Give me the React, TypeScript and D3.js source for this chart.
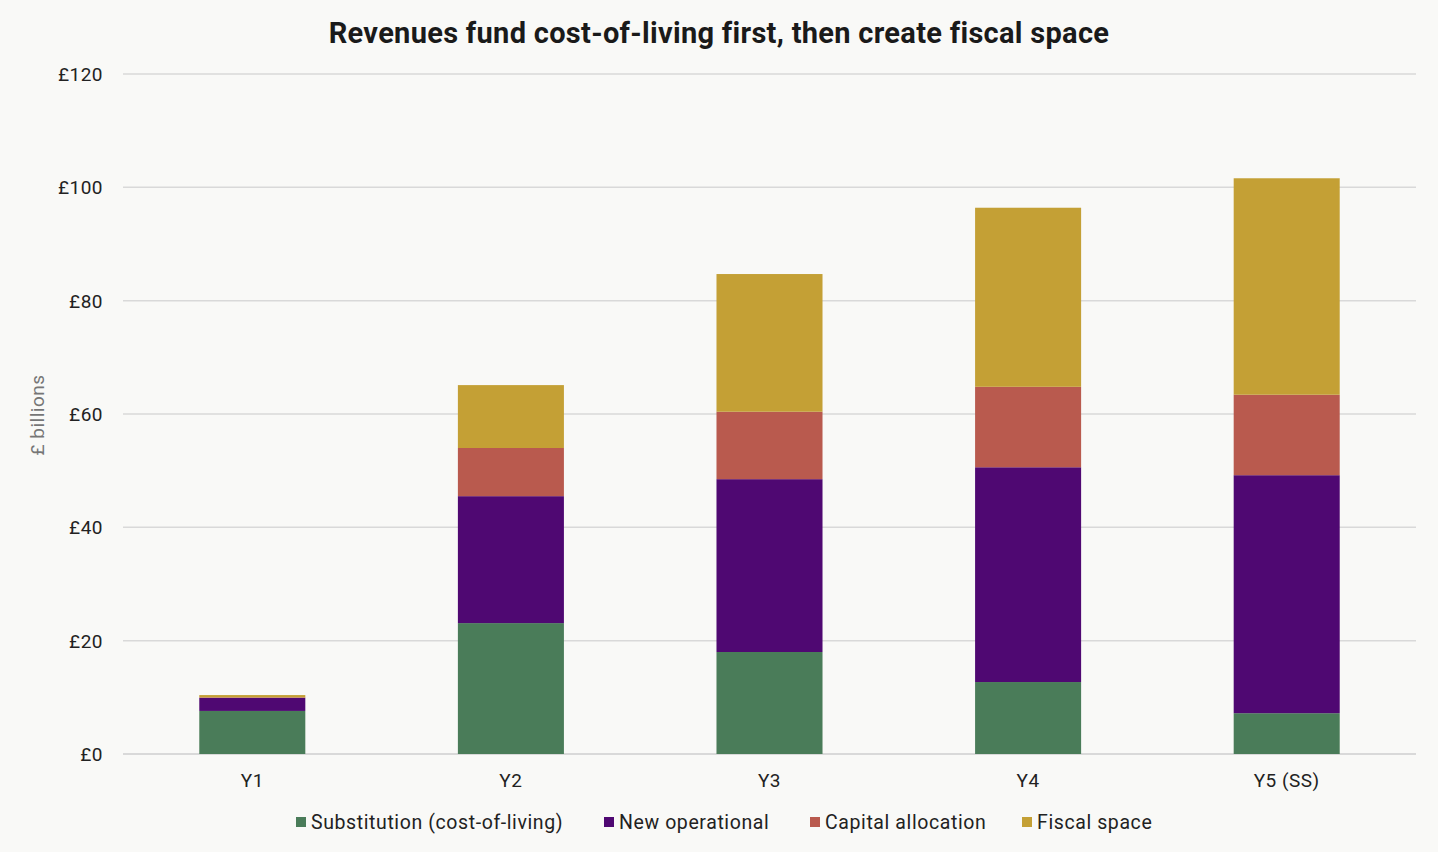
import React from 'react';
import * as d3 from 'd3';

const years = ['Y1', 'Y2', 'Y3', 'Y4', 'Y5 (SS)'];
const seriesNames = ['Substitution (cost-of-living)', 'New operational', 'Capital allocation', 'Fiscal space'];
const substitution = [7.6, 23.1, 18.0, 12.7, 7.2];
const newOperational = [2.3, 22.4, 30.5, 37.9, 42.0];
const capitalAllocation = [0.1, 8.5, 11.9, 14.2, 14.2];
const fiscalSpace = [0.4, 11.1, 24.3, 31.6, 38.2];
const yTicks = [0, 20, 40, 60, 80, 100, 120];

const colors = ['#4a7c59', '#4f0872', '#b95a4e', '#c4a035'];
const keys = ['sub', 'ops', 'cap', 'fis'];

const W = 1438;
const H = 852;
const margin = { top: 74, right: 22, bottom: 98, left: 123 };
const font = 'Roboto, "Noto Sans", sans-serif';

export default function App() {
  const rows = years.map((y, i) => ({
    year: y,
    sub: substitution[i],
    ops: newOperational[i],
    cap: capitalAllocation[i],
    fis: fiscalSpace[i],
  }));
  const stacked = d3.stack<any>().keys(keys)(rows);

  const x = d3.scaleBand().domain(years).range([margin.left, W - margin.right]).paddingInner(0.59).paddingOuter(0.295);
  const y = d3.scaleLinear().domain([0, 120]).range([H - margin.bottom, margin.top]);

  // legend swatch positions along the bottom row
  const legendX = [296, 604, 810, 1022];

  return (
    <svg width={W} height={H} style={{ display: 'block', position: 'absolute', left: 0, top: 0, background: '#f9f9f7' }}>
      <rect width={W} height={H} fill="#f9f9f7" />
      <text x={719} y={43} textAnchor="middle" fontFamily={font} fontWeight={700} fontSize={29} fill="#1a1a1a" letterSpacing={0.3}>
        Revenues fund cost-of-living first, then create fiscal space
      </text>

      {yTicks.map(t => (
        <g key={t}>
          <line x1={margin.left} x2={W - margin.right} y1={y(t)} y2={y(t)} stroke="#d9d9d9" strokeWidth={t === 0 ? 2 : 1.5} />
          <text x={103} y={y(t) + 7} textAnchor="end" fontFamily={font} fontSize={19} fill="#222" letterSpacing={0.5}>
            £{t}
          </text>
        </g>
      ))}

      <text transform="translate(44,415) rotate(-90)" textAnchor="middle" fontFamily={font} fontSize={19} fill="#767676" letterSpacing={0.5}>
        £ billions
      </text>

      {stacked.map((s, si) => (
        <g key={s.key} fill={colors[si]}>
          {s.map((d, i) => (
            <rect key={i} x={x(years[i])} y={y(d[1])} width={x.bandwidth()} height={Math.max(0, y(d[0]) - y(d[1]))} />
          ))}
        </g>
      ))}

      {years.map(yr => (
        <text key={yr} x={(x(yr) as number) + x.bandwidth() / 2} y={787} textAnchor="middle" fontFamily={font} fontSize={19} fill="#222" letterSpacing={0.5}>
          {yr}
        </text>
      ))}

      {seriesNames.map((n, i) => (
        <g key={n}>
          <rect x={legendX[i]} y={817} width={10} height={10} fill={colors[i]} />
          <text x={legendX[i] + 15} y={829} fontFamily={font} fontSize={19.5} fill="#222" letterSpacing={0.6}>
            {n}
          </text>
        </g>
      ))}
    </svg>
  );
}
